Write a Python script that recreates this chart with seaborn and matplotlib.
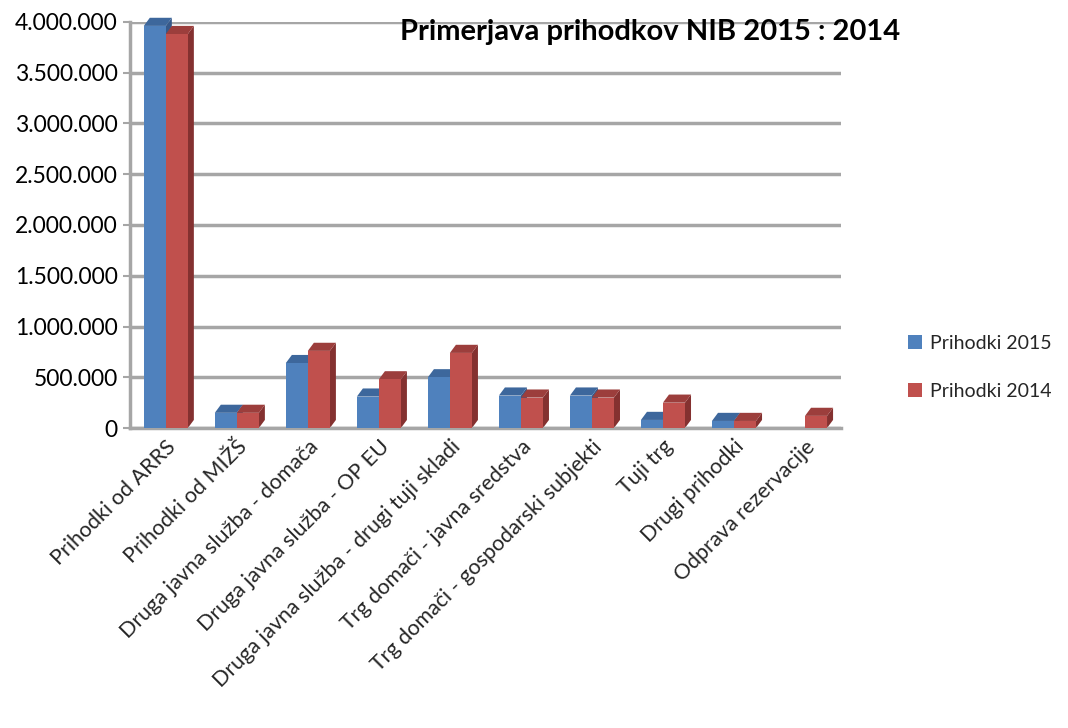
import matplotlib
matplotlib.use('Agg')
import matplotlib.pyplot as plt
from matplotlib.patches import Polygon
from matplotlib.ticker import FuncFormatter
import seaborn as sns
import pandas as pd

# ----------------- data -----------------
categories = [
    'Prihodki od ARRS',
    'Prihodki od MIŽŠ',
    'Druga javna služba - domača',
    'Druga javna služba - OP EU',
    'Druga javna služba - drugi tuji skladi',
    'Trg domači - javna sredstva',
    'Trg domači - gospodarski subjekti',
    'Tuji trg',
    'Drugi prihodki',
    'Odprava rezervacije',
]
prihodki_2015 = [3960000, 150000, 640000, 310000, 500000, 320000, 320000, 80000, 70000, 0]
prihodki_2014 = [3880000, 150000, 760000, 480000, 740000, 300000, 300000, 250000, 70000, 120000]
series_names = ['Prihodki 2015', 'Prihodki 2014']
y_ticks = [0, 500000, 1000000, 1500000, 2000000, 2500000, 3000000, 3500000, 4000000]

BLUE = '#4F81BD'
RED = '#C0504D'
GRID = '#a6a6a6'
# darker shades for the fake 3d faces
SIDE = {BLUE: '#36598a', RED: '#843130'}
TOP = {BLUE: '#3d679c', RED: '#9c3e3c'}

df = pd.DataFrame({
    'Kategorija': categories * 2,
    'Vrednost': prihodki_2015 + prihodki_2014,
    'Serija': [series_names[0]] * len(categories) + [series_names[1]] * len(categories),
})

sns.set_style('white')
plt.rcParams['font.family'] = ['Lato', 'DejaVu Sans']

fig = plt.figure(figsize=(10.68, 7.28), dpi=100)
ax = fig.add_axes([0.122, 0.412, 0.665, 0.558])

sns.barplot(data=df, x='Kategorija', y='Vrednost', hue='Serija',
            palette=[BLUE, RED], width=0.62, saturation=1, ax=ax,
            zorder=3, linewidth=0)

# fake 3d: side and top faces for every bar
dx = 0.085
dy = 80000
bars = list(ax.patches)
for b in bars:
    h = b.get_height()
    if h <= 0:
        continue
    x0 = b.get_x()
    x1 = x0 + b.get_width()
    col = matplotlib.colors.to_hex(b.get_facecolor())
    col = BLUE if col.lower() == BLUE.lower() else RED
    side = Polygon([(x1, 0), (x1 + dx, dy), (x1 + dx, h + dy), (x1, h)],
                   closed=True, facecolor=SIDE[col], edgecolor='none',
                   zorder=2.5, clip_on=False)
    top = Polygon([(x0, h), (x0 + dx, h + dy), (x1 + dx, h + dy), (x1, h)],
                  closed=True, facecolor=TOP[col], edgecolor='none',
                  zorder=2.5, clip_on=False)
    ax.add_patch(side)
    ax.add_patch(top)

ax.set_ylim(0, 4000000)
ax.set_xlim(-0.5, len(categories) - 0.5)
ax.set_yticks(y_ticks)
ax.yaxis.set_major_formatter(FuncFormatter(lambda v, p: f'{v:,.0f}'.replace(',', '.')))
ax.grid(axis='y', color=GRID, linewidth=2.5, zorder=0)
ax.set_axisbelow(True)

for s in ['top', 'right']:
    ax.spines[s].set_visible(False)
for s in ['left', 'bottom']:
    ax.spines[s].set_color(GRID)
    ax.spines[s].set_linewidth(2.5)

ax.set_xlabel('')
ax.set_ylabel('')
ax.tick_params(axis='y', labelsize=16.5, colors='#000000', length=5, width=1.5,
               color=GRID, direction='out', left=True, pad=4)
ax.tick_params(axis='x', labelsize=15.5, length=0, pad=6)
ax.set_xticks(range(len(categories)))
ax.set_xticklabels(categories, rotation=45, ha='right', rotation_mode='anchor')

fig.text(0.609, 0.956, 'Primerjava prihodkov NIB 2015 : 2014', ha='center',
         va='center', fontsize=21, fontweight='bold', color='#000000')

sns.move_legend(ax, 'center left', bbox_to_anchor=(1.07, 0.15), frameon=False,
                title=None, fontsize=14, labelspacing=1.6, handlelength=0.75,
                handleheight=0.75, handletextpad=0.4)

plt.savefig('out.png', dpi=100)
